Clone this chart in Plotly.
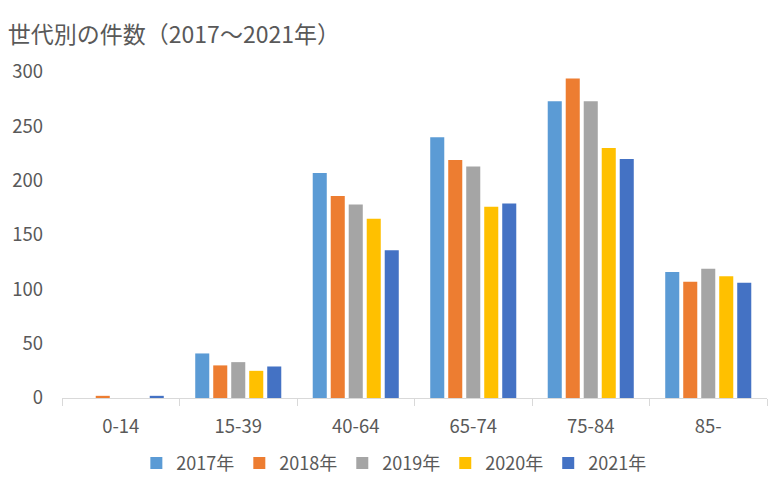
import plotly.graph_objects as go

age_groups = ['0-14', '15-39', '40-64', '65-74', '75-84', '85-']
years = ['2017年', '2018年', '2019年', '2020年', '2021年']
counts_2017 = [0, 41, 207, 240, 273, 116]
counts_2018 = [2, 30, 186, 219, 294, 107]
counts_2019 = [0, 33, 178, 213, 273, 119]
counts_2020 = [0, 25, 165, 176, 230, 112]
counts_2021 = [2, 29, 136, 179, 220, 106]
y_ticks = [0, 50, 100, 150, 200, 250, 300]

colors = ['#5B9BD5', '#ED7D31', '#A5A5A5', '#FFC000', '#4472C4']
series = [counts_2017, counts_2018, counts_2019, counts_2020, counts_2021]

font_family = 'Noto Sans CJK JP, Noto Sans, sans-serif'
text_color = '#595959'

fig = go.Figure()
for name, vals, col in zip(years, series, colors):
    fig.add_trace(go.Bar(x=age_groups, y=vals, name=name, marker_color=col,
                         marker_line_width=0))

fig.update_layout(
    width=783, height=489,
    barmode='group', bargap=0.234, bargroupgap=0.22,
    plot_bgcolor='white', paper_bgcolor='white',
    margin=dict(l=62, r=16, t=72, b=91, autoexpand=False),
    font=dict(family=font_family, color=text_color, size=18.5),
    title=dict(text='世代別の件数（2017～2021年）', x=0.01, xanchor='left',
               y=0.928, yanchor='middle',
               font=dict(size=23, color=text_color, family=font_family)),
    legend=dict(orientation='h', xref='container', x=0.503, xanchor='center',
                y=-0.2, yanchor='middle',
                font=dict(size=18, color=text_color), itemwidth=30,
                traceorder='normal'),
)
fig.update_xaxes(showline=True, linecolor='#D9D9D9', linewidth=1,
                 ticks='outside', tickson='boundaries', ticklen=7,
                 tickcolor='#D9D9D9', showgrid=False, automargin=False,
                 ticklabelstandoff=12,
                 tickfont=dict(size=18.5, color=text_color))
fig.update_yaxes(range=[0, 300], tickvals=y_ticks, showgrid=False,
                 zeroline=False, showline=False, ticklabelstandoff=18,
                 automargin=False,
                 tickfont=dict(size=18.5, color=text_color))

# drop the default page margin so the chart sits at the window's corner
fig.write_html("out.html", config={'displayModeBar': False},
               post_script="document.body.style.margin='0';")
